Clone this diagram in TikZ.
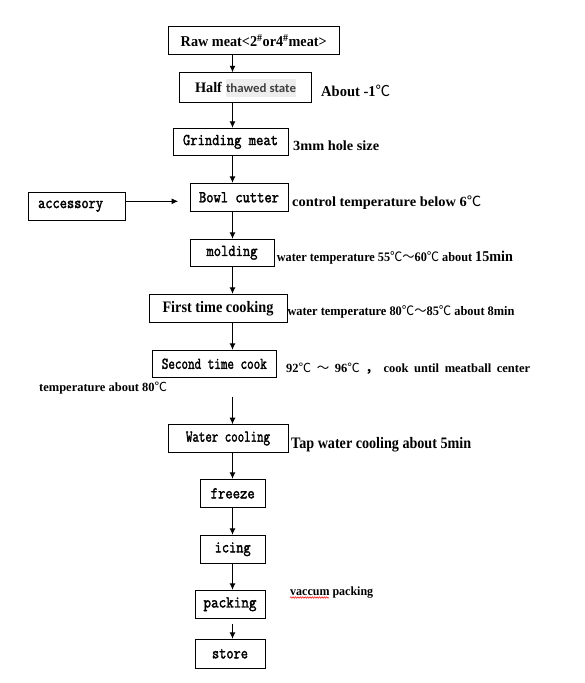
\documentclass[tikz,border=0pt]{standalone}
\usepackage{fontspec}
\setmainfont{Liberation Serif}
\newfontfamily\monof[FakeBold=2.2]{Latin Modern Mono}
\newfontfamily\cjkf{Noto Sans CJK SC}
\newfontfamily\carlf{Carlito}
\usetikzlibrary{arrows.meta,decorations.pathmorphing}
\newcommand\fw[2]{\resizebox{#1pt}{\height}{#2}}
\newcommand\dC{{\cjkf\mdseries ℃}}
\definecolor{hlgray}{gray}{0.93}
\definecolor{txgray}{gray}{0.25}
\begin{document}
\begin{tikzpicture}[x=1pt,y=-1pt,
  box/.style={draw, line width=1pt, inner sep=0pt, anchor=center},
  mt/.style={font=\fontsize{16.5}{16.5}\selectfont\monof},
  st/.style={font=\fontsize{15}{15}\selectfont\bfseries},
  lbl/.style={anchor=base west, inner sep=0pt, font=\bfseries\fontsize{14}{14}\selectfont},
  arr/.style={-{Latex[length=6.5pt,width=6pt]}, line width=0.9pt}]
\useasboundingbox (0,0) rectangle (584,683);
\coordinate (ax) at (232.5,0);
% boxes
\node[box, st, minimum width=171.5pt, minimum height=27.6pt] (raw) at (253.75,40.5)
  {\fw{146}{Raw meat<2\textsuperscript{\#}or4\textsuperscript{\#}meat>}};
\node[box, minimum width=132.4pt, minimum height=29.5pt] (half) at (245.5,87.5)
  {\fw{27}{\fontsize{14.5}{14.5}\selectfont\bfseries Half}\hspace{4pt}{\setlength\fboxsep{0pt}\colorbox{hlgray}{\rule[-4.3pt]{0pt}{18pt}\fw{70}{\fontsize{12.5}{12.5}\selectfont\carlf\bfseries\color{txgray}thawed state}}}};
\node[box, mt, minimum width=115pt, minimum height=27pt] (grind) at (230.5,141.8) {\fw{95}{Grinding meat}};
\node[box, mt, minimum width=98pt, minimum height=28pt] (bowl) at (239,197.3) {\fw{80}{Bowl cutter}};
\node[box, mt, minimum width=97pt, minimum height=28pt] (acc) at (77.1,206.3) {\fw{65}{accessory}\hspace*{13pt}};
\node[box, mt, minimum width=84pt, minimum height=27pt] (mold) at (232,252.8) {\fw{51}{molding}};
\node[box, font=\fontsize{16}{16}\selectfont\bfseries, minimum width=138pt, minimum height=28pt] (first) at (218,308.3) {\fw{111}{First time cooking}};
\node[box, mt, minimum width=123.4pt, minimum height=27pt] (second) at (214.3,363.8) {\fw{105}{Second time cook}};
\node[box, mt, minimum width=120pt, minimum height=27.6pt] (water) at (228,438.5) {\fw{84}{Water cooling}};
\node[box, mt, minimum width=64.6pt, minimum height=28pt] (freeze) at (232.7,493.3) {\fw{44}{freeze}};
\node[box, mt, minimum width=64.6pt, minimum height=28pt] (icing) at (232.7,549.3) {\fw{36}{icing}};
\node[box, mt, minimum width=70pt, minimum height=28pt] (packing) at (230,604.3) {\fw{53}{packing}};
\node[box, mt, minimum width=70pt, minimum height=29pt] (store) at (230,653.8) {\fw{36}{store}};
% labels
\node[lbl, font=\bfseries\fontsize{15}{15}\selectfont] (l1) at (321,96) {\fw{69}{About -1\dC}};
\node[lbl] (l2) at (293,150.7) {\fw{86}{3mm hole size}};
\node[lbl] (l3) at (292,206.7) {\fw{189}{control temperature below 6\dC}};
\node[lbl, font=\bfseries\fontsize{13}{13}\selectfont] (l4) at (276.7,261)
  {\fw{236}{water temperature 55\dC{\cjkf\mdseries ～}60\dC{} about {\fontsize{15}{15}\selectfont 15min}}};
\node[lbl, font=\bfseries\fontsize{13}{13}\selectfont] (l5) at (287.3,315.3)
  {\fw{227}{water temperature 80\dC{\cjkf\mdseries ～}85\dC{} about 8min}};
\node[lbl, font=\bfseries\fontsize{12.5}{12.5}\selectfont] (l6) at (286,372)
  {\makebox[244pt][s]{92\dC{} {\cjkf\mdseries ～} 96\dC{} {\cjkf ，} cook until meatball center}};
\node[lbl, font=\bfseries\fontsize{12.5}{12.5}\selectfont] (l7) at (39,391) {\fw{128}{temperature about 80\dC}};
\node[lbl, font=\bfseries\fontsize{16}{16}\selectfont] (l8) at (291,448.7) {\fw{180}{Tap water cooling about 5min}};
\node[lbl, font=\bfseries\fontsize{12.5}{12.5}\selectfont] (vac) at (290,595) {\fw{83}{vaccum packing}};
\draw[red, line width=0.5pt, decorate, decoration={snake,amplitude=0.8pt,segment length=2.4pt}]
  ([yshift=-2.5pt]vac.base west) -- ([xshift=39pt,yshift=-2.5pt]vac.base west);
% connectors
\draw[arr] (raw.south -| ax) -- (half.north -| ax);
\draw[arr] (half.south -| ax) -- (grind.north -| ax);
\draw[arr] (grind.south -| ax) -- (bowl.north -| ax);
\draw[arr] (bowl.south -| ax) -- (mold.north -| ax);
\draw[arr] (mold.south -| ax) -- (first.north -| ax);
\draw[arr] (first.south -| ax) -- (second.north -| ax);
\coordinate (s2) at ([yshift=-18.7pt]second.south);
\draw[arr] (s2 -| ax) -- (water.north -| ax);
\draw[arr] (water.south -| ax) -- (freeze.north -| ax);
\draw[arr] (freeze.south -| ax) -- (icing.north -| ax);
\draw[arr] (icing.south -| ax) -- (packing.north -| ax);
\coordinate (s3) at ([yshift=-5pt]packing.south);
\draw[arr] (s3 -| ax) -- (store.north -| ax);
\draw[arr] ([yshift=5pt]acc.east) -- ([xshift=-11.4pt,yshift=-4pt]bowl.west);
\end{tikzpicture}
\end{document}
